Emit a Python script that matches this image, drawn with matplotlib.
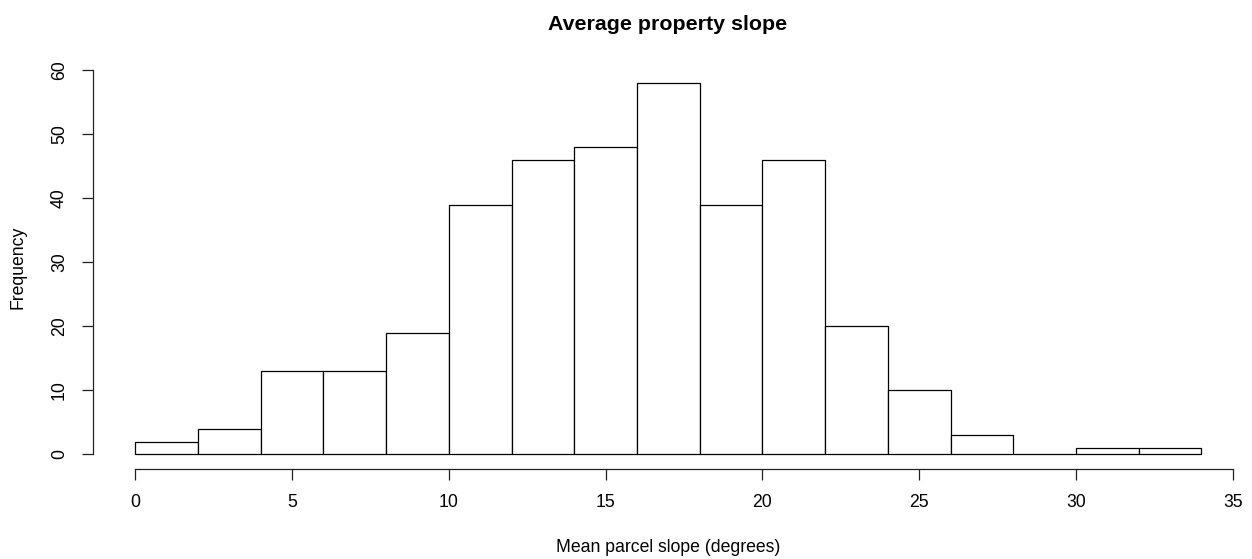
import numpy as np
import matplotlib
matplotlib.use('Agg')
import matplotlib.pyplot as plt

# bin edges (degrees) and counts
breaks = np.arange(0, 36, 2)
counts = [2, 4, 13, 13, 19, 39, 46, 48, 58, 39, 46, 20, 10, 3, 0, 1, 1]
xticks_ = [0, 5, 10, 15, 20, 25, 30, 35]
yticks_ = [0, 10, 20, 30, 40, 50, 60]

plt.rcParams['font.family'] = ['Liberation Sans', 'DejaVu Sans']
baseSize = 12.7
lineColor = '#222222'

W, H = 1252, 559
fig = plt.figure(figsize=(W / 100, H / 100), dpi=100, facecolor='w')

# plot region in pixels (R style, 4% padding around data range)
left, right, top, bottom = 92.7, 1244.0, 68.0, 469.3
ax = fig.add_axes([left / W, 1 - bottom / H, (right - left) / W, (bottom - top) / H])

ax.bar(breaks[:-1], counts, width=2, align='edge', color='white',
       edgecolor='black', linewidth=0.9)

ax.set_xlim(-1.36, 35.36)
ax.set_ylim(-2.32, 60.32)

for s in ['top', 'right']:
    ax.spines[s].set_visible(False)
ax.spines['left'].set_bounds(0, 60)
ax.spines['bottom'].set_bounds(0, 35)
for s in ['left', 'bottom']:
    ax.spines[s].set_color(lineColor)
    ax.spines[s].set_linewidth(0.9)

ax.set_xticks(xticks_)
ax.set_yticks(yticks_)
ax.set_yticklabels([str(v) for v in yticks_], rotation=90, va='center')
ax.tick_params(axis='both', length=7.8, width=0.9, color=lineColor,
               labelsize=baseSize, pad=10)

fig.text(668 / W, 1 - 25 / H, 'Average property slope', ha='center', va='center',
         fontsize=15.4, fontweight='bold')
fig.text(668 / W, 1 - 547 / H, 'Mean parcel slope (degrees)', ha='center',
         va='center', fontsize=baseSize)
fig.text(18.5 / W, 1 - 267 / H, 'Frequency', ha='center', va='center',
         rotation=90, fontsize=baseSize)

fig.savefig('out.png', dpi=100)
